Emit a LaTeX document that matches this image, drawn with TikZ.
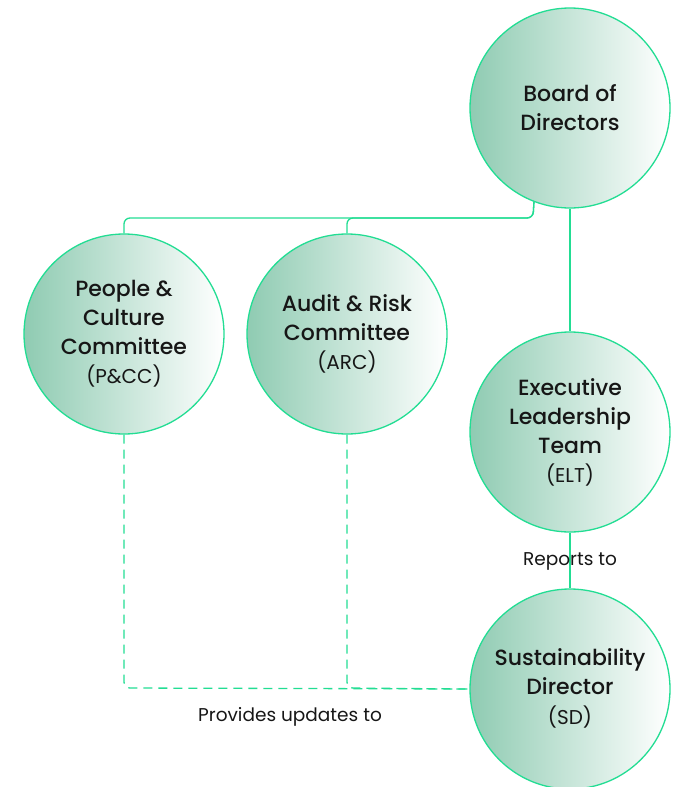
\documentclass[tikz,border=0pt]{standalone}
\usepackage{fontspec}
\setmainfont{Poppins}
\newfontfamily\medfont{Poppins}[UprightFont=* Medium]
\definecolor{edge}{HTML}{22DD93}
\definecolor{fillL}{HTML}{8FCBB2}
\definecolor{ink}{HTML}{161616}
\begin{document}
\begin{tikzpicture}[x=1pt,y=-1pt,
  org/.style={circle, draw=edge, line width=1.3pt, minimum size=200pt, inner sep=0pt,
    left color=fillL, right color=white, align=center, text=ink,
    font=\medfont\fontsize{22}{29}\selectfont},
  link/.style={draw=edge, line width=1.3pt, rounded corners=6pt},
  dlink/.style={link, dash pattern=on 9pt off 6pt},
  lbl/.style={text=ink, font=\fontsize{18.5}{20}\selectfont}]
\useasboundingbox (0,0) rectangle (675,787);
\node[org] (bod) at (570,108) {Board of\\Directors};
\node[org] (pcc) at (124,334) {People \&\\Culture\\Committee\\{\normalfont\fontsize{20}{31}\selectfont (P\&CC)}};
\node[org] (arc) at (347,334) {Audit \& Risk\\Committee\\{\normalfont\fontsize{20}{31}\selectfont (ARC)}};
\node[org] (elt) at (570,432) {Executive\\Leadership\\Team\\{\normalfont\fontsize{20}{31}\selectfont (ELT)}};
\node[org] (sd) at (570,689) {\raisebox{-4pt}{\begin{tabular}{@{}c@{}}Sustainability\\[-0.5pt]Director\\[1pt]{\normalfont\fontsize{20}{31}\selectfont (SD)}\end{tabular}}};
\coordinate (j1) at (533,218);
\coordinate (j2) at (124,218);
\coordinate (j3) at (347,218);
\coordinate (k1) at (124,688);
\coordinate (k2) at (347,688);
\path[link] (bod.-111.7) -- (j1) -- (j2) -- (pcc.north);
\path[link] (bod.-111.7) -- (j1) -- (j3) -- (arc.north);
\path[link] (bod.south) -- (elt.north);
\path[link] (elt.south) -- (sd.north);
\path[dlink] (pcc.south) -- (k1) -- (sd.west);
\path[dlink] (arc.south) -- (k2) -- (sd.west);
\node[lbl] (rep) at (570,561) {Reports to};
\node[lbl] (upd) at (290,717) {Provides updates to};
\end{tikzpicture}
\end{document}
